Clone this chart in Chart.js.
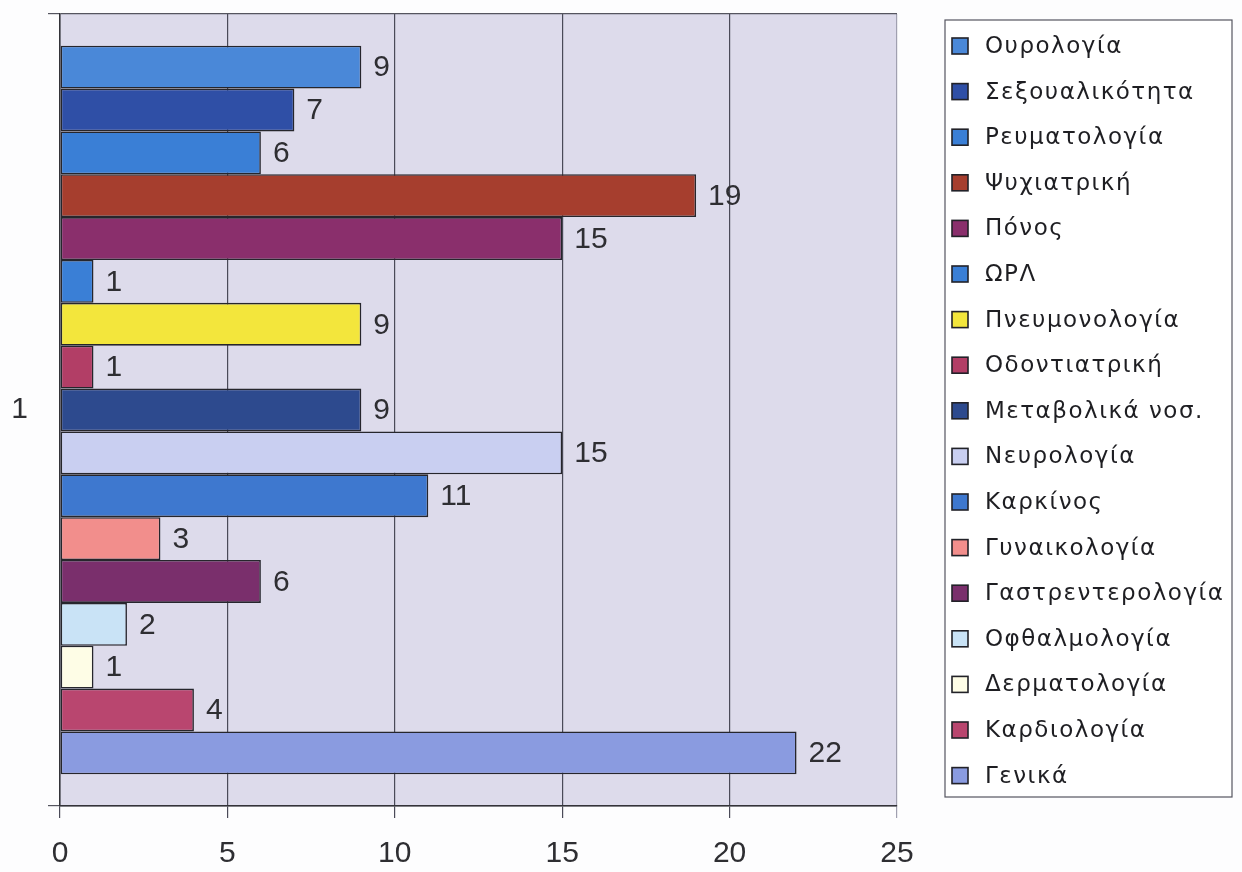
<!DOCTYPE html>
<html>
<head>
<meta charset="utf-8">
<script src="https://cdn.jsdelivr.net/npm/chart.js@4.4.1/dist/chart.umd.min.js"></script>
<style>
  html, body { margin: 0; padding: 0; background: #fdfdfe; }
  #wrap { width: 1242px; height: 872px; }
</style>
</head>
<body>
<div id="wrap"><canvas id="grafica" width="1242" height="872"></canvas></div>
<script>
// categoria unica y series (de arriba hacia abajo, como en la leyenda)
const categorias = ['1'];
const especialidades = [
    'Ουρολογία', 'Σεξουαλικότητα', 'Ρευματολογία', 'Ψυχιατρική', 'Πόνος', 'ΩΡΛ',
    'Πνευμονολογία', 'Οδοντιατρική', 'Μεταβολικά νοσ.', 'Νευρολογία', 'Καρκίνος',
    'Γυναικολογία', 'Γαστρεντερολογία', 'Οφθαλμολογία', 'Δερματολογία', 'Καρδιολογία', 'Γενικά'
];
const valores = [9, 7, 6, 19, 15, 1, 9, 1, 9, 15, 11, 3, 6, 2, 1, 4, 22];
const colores = [
    '#4a88d8', '#2f4fa6', '#3a7fd6', '#a63e2e', '#8a2f6c', '#3a7fd6',
    '#f3e63c', '#b23e66', '#2d4a8e', '#c9cff1', '#3e78cf',
    '#f28e8c', '#7a2f6c', '#c9e3f6', '#fefde6', '#b9466f', '#8a9be0'
];
const ticksX = [0, 5, 10, 15, 20, 25];

const fuente = "'Liberation Sans', Arial, sans-serif";
const fuenteLeyenda = "'DejaVu Sans', 'Liberation Sans', sans-serif";

const datasets = especialidades.map((nombre, i) => ({
    label: nombre,
    data: [valores[i]],
    backgroundColor: colores[i],
    borderColor: '#26262c',
    borderWidth: 1.6,
    borderSkipped: false,
    categoryPercentage: 0.92,
    barPercentage: 1.0
}));

// fondo del area de trazado
const fondoPlot = {
    id: 'fondoPlot',
    beforeDraw(chart) {
        const { ctx, chartArea: a } = chart;
        ctx.save();
        ctx.fillStyle = '#dddbeb';
        ctx.fillRect(a.left, a.top, a.right - a.left, a.bottom - a.top);
        ctx.restore();
    }
};

// valores al final de cada barra
const etiquetas = {
    id: 'etiquetas',
    afterDatasetsDraw(chart) {
        const ctx = chart.ctx;
        ctx.save();
        ctx.font = `30px ${fuente}`;
        ctx.fillStyle = '#2e2e32';
        ctx.textAlign = 'left';
        ctx.textBaseline = 'middle';
        chart.data.datasets.forEach((ds, i) => {
            chart.getDatasetMeta(i).data.forEach((bar, j) => {
                ctx.fillText(String(ds.data[j]), bar.x + 12, bar.y + 1);
            });
        });
        ctx.restore();
    }
};

// leyenda con recuadro a la derecha
const leyenda = {
    id: 'leyenda',
    afterDraw(chart) {
        const ctx = chart.ctx;
        const x0 = 945, y0 = 20, w = 287, h = 777;
        const paso = 45.6, primero = 46;
        ctx.save();
        ctx.fillStyle = '#ffffff';
        ctx.fillRect(x0, y0, w, h);
        ctx.strokeStyle = '#555560';
        ctx.lineWidth = 1.2;
        ctx.strokeRect(x0, y0, w, h);
        ctx.font = `23px ${fuenteLeyenda}`;
        if ('letterSpacing' in ctx) ctx.letterSpacing = '1.5px';
        ctx.textBaseline = 'middle';
        chart.data.datasets.forEach((ds, i) => {
            const y = primero + i * paso;
            ctx.fillStyle = ds.backgroundColor;
            ctx.fillRect(952, y - 8, 16, 16);
            ctx.strokeStyle = '#222228';
            ctx.lineWidth = 1.6;
            ctx.strokeRect(952, y - 8, 16, 16);
            ctx.fillStyle = '#1e1e22';
            ctx.fillText(ds.label, 985, y + 1);
        });
        ctx.restore();
    }
};

new Chart(document.getElementById('grafica'), {
    type: 'bar',
    data: { labels: categorias, datasets: datasets },
    options: {
        indexAxis: 'y',
        responsive: false,
        animation: false,
        layout: { padding: { top: 14, left: 12, right: 345, bottom: 0 } },
        plugins: {
            legend: { display: false },
            tooltip: { enabled: false }
        },
        scales: {
            x: {
                type: 'linear',
                min: 0,
                max: 25,
                afterBuildTicks: (axis) => { axis.ticks = ticksX.map(v => ({ value: v })); },
                afterFit: (scale) => {
                    scale.height = 66;
                    scale.paddingLeft = 0; scale.paddingRight = 0;
                },
                ticks: { font: { family: fuente, size: 30 }, color: '#2e2e32', padding: 18 },
                grid: {
                    color: (c) => (c.tick && c.tick.value === 25) ? '#a0a0b0' : '#4a4a58',
                    lineWidth: 1.2,
                    tickLength: 12
                },
                border: { display: true, color: '#333338', width: 1.5 }
            },
            y: {
                type: 'category',
                afterFit: (scale) => {
                    scale.width = 48;
                    scale.paddingTop = 0; scale.paddingBottom = 0;
                },
                ticks: { font: { family: fuente, size: 30 }, color: '#2e2e32', padding: 20 },
                grid: { offset: true, color: '#55555f', lineWidth: 1.2, tickLength: 12 },
                border: { display: true, color: '#333338', width: 1.5 }
            }
        }
    },
    plugins: [fondoPlot, etiquetas, leyenda]
});
</script>
</body>
</html>
